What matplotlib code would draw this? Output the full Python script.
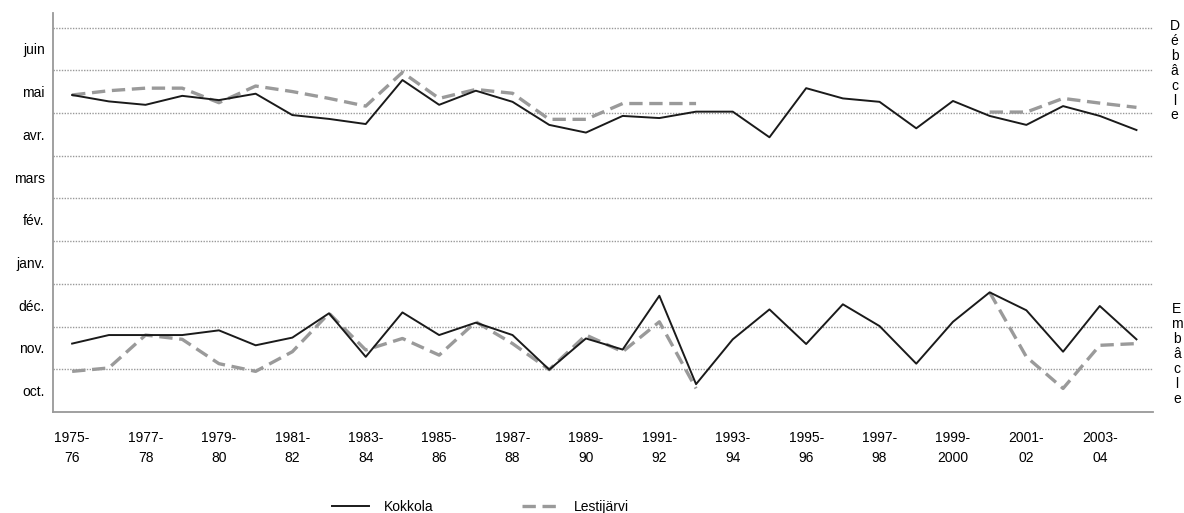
import numpy as np
import matplotlib
matplotlib.use('Agg')
import matplotlib.pyplot as plt

plt.rcParams['font.family'] = ['Liberation Sans', 'DejaVu Sans']

seasons = ['%d-\n%s' % (y, str(y + 1)[2:] if y != 1999 else '2000') for y in range(1975, 2005)]
months = ['oct.', 'nov.', 'déc.', 'janv.', 'fév.', 'mars', 'avr.', 'mai', 'juin']

# dates in months counted from 1 October
deb_kokkola = [7.42, 7.27, 7.19, 7.40, 7.30, 7.45, 6.95, 6.86, 6.74, 7.77,
               7.19, 7.52, 7.26, 6.72, 6.54, 6.93, 6.88, 7.03, 7.03, 6.43,
               7.58, 7.34, 7.26, 6.64, 7.28, 6.93, 6.72, 7.16, 6.93, 6.60]
deb_lesti = [7.42, 7.52, 7.58, 7.58, 7.24, 7.63, 7.50, 7.34, 7.16, 7.95,
             7.34, 7.55, 7.46, 6.85, 6.85, 7.22, 7.22, 7.22, np.nan, np.nan,
             np.nan, np.nan, np.nan, np.nan, np.nan, 7.02, 7.02, 7.34, 7.23, 7.13]
emb_kokkola = [1.60, 1.80, 1.80, 1.80, 1.91, 1.56, 1.74, 2.31, 1.29, 2.33,
               1.80, 2.09, 1.80, 0.99, 1.72, 1.46, 2.72, 0.65, 1.70, 2.40,
               1.59, 2.52, 2.01, 1.13, 2.11, 2.80, 2.38, 1.41, 2.48, 1.70]
emb_lesti = [0.95, 1.03, 1.80, 1.70, 1.13, 0.95, 1.41, 2.31, 1.45, 1.72,
             1.33, 2.11, 1.60, 0.99, 1.80, 1.41, 2.11, 0.55, np.nan, np.nan,
             np.nan, np.nan, np.nan, np.nan, np.nan, 2.80, 1.29, 0.55, 1.56, 1.60]

x = np.arange(len(seasons))

fig = plt.figure(figsize=(11.84, 5.13), dpi=100)
ax = fig.add_axes([0.0448, 0.197, 0.929, 0.7777])

k1, = ax.plot(x, deb_kokkola, color='#1a1a1a', lw=1.4, label='Kokkola', zorder=3)
l1, = ax.plot(x, deb_lesti, color='#9a9a9a', lw=2.4, dashes=(4, 2), label='Lestijärvi')
ax.plot(x, emb_kokkola, color='#1a1a1a', lw=1.4, zorder=3)
ax.plot(x, emb_lesti, color='#9a9a9a', lw=2.4, dashes=(4, 2))

for g in range(1, 10):
    ax.axhline(g, color='#999999', lw=1, ls=(0, (1, 1)), zorder=1)

ax.set_xlim(-0.52, 29.45)
ax.set_ylim(0, 9.34)
ax.set_yticks(np.arange(9) + 0.5)
ax.set_yticklabels(months, fontsize=10)
ax.set_xticks(x[::2])
ax.set_xticklabels(seasons[::2], fontsize=10, linespacing=1.5)
ax.tick_params(length=0, color='#222222')
ax.tick_params(axis='y', pad=6)
ax.tick_params(axis='x', pad=14)

for s in ['top', 'right']:
    ax.spines[s].set_visible(False)
for s in ['left', 'bottom']:
    ax.spines[s].set_color('#999999')
    ax.spines[s].set_linewidth(1.3)

fig.text(0.992, 0.862, '\n'.join('Débâcle'), ha='center', va='center', fontsize=10, linespacing=1.08)
fig.text(0.994, 0.31, '\n'.join('Embâcle'), ha='center', va='center', fontsize=10, linespacing=1.08)

fig.legend(handles=[k1, l1], loc='center', bbox_to_anchor=(0.406, 0.012), ncol=2,
           frameon=False, fontsize=10, handlelength=2.6, handletextpad=1.1,
           columnspacing=6.4)

fig.savefig('out.png', dpi=100)
